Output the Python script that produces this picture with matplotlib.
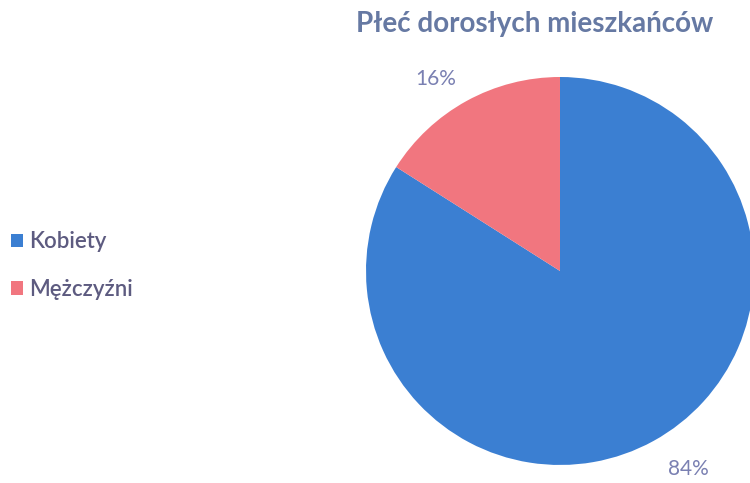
import matplotlib
matplotlib.use("Agg")
import matplotlib.pyplot as plt
from matplotlib.patches import Patch

# data
categories = ["Kobiety", "Mężczyźni"]
shares = [84, 16]
colors = ["#3b7fd2", "#f1767f"]
title = "Płeć dorosłych mieszkańców"

plt.rcParams["font.family"] = ["Lato", "DejaVu Sans"]

fig = plt.figure(figsize=(7.5, 4.83), dpi=100)
ax = fig.add_axes([0.488, 0.0373, 0.5173, 0.8033])

wedges, texts, autotexts = ax.pie(
    shares, colors=colors, startangle=90, counterclock=False,
    autopct="%1.0f%%", pctdistance=1.2, radius=1.0,
    wedgeprops=dict(linewidth=0),
    textprops=dict(color="#7a80b2", fontsize=15),
)
for w in wedges:
    w.set_clip_on(False)
# label placement (outside the wedges, as in the original)
label_pos = [(0.66, -1.02), (-0.64, 0.99)]
for t, p in zip(autotexts, label_pos):
    t.set_position(p)
ax.set_xlim(-1, 1)
ax.set_ylim(-1, 1)
ax.set_aspect("equal")
ax.axis("off")

fig.text(0.713, 0.95, title, ha="center", va="center",
         fontsize=20, fontweight="bold", color="#6679a3")

handles = [Patch(facecolor=c, edgecolor="none") for c in colors]
leg = fig.legend(handles, categories, loc="center left",
                 bbox_to_anchor=(0.012, 0.45), frameon=False,
                 borderaxespad=0, borderpad=0.1,
                 fontsize=16, handlelength=0.55, handleheight=0.55,
                 handletextpad=0.25, labelspacing=1.2)
for t in leg.get_texts():
    t.set_color("#5d5b80")
    t.set_fontweight(600)

fig.savefig("out.png", dpi=100)
